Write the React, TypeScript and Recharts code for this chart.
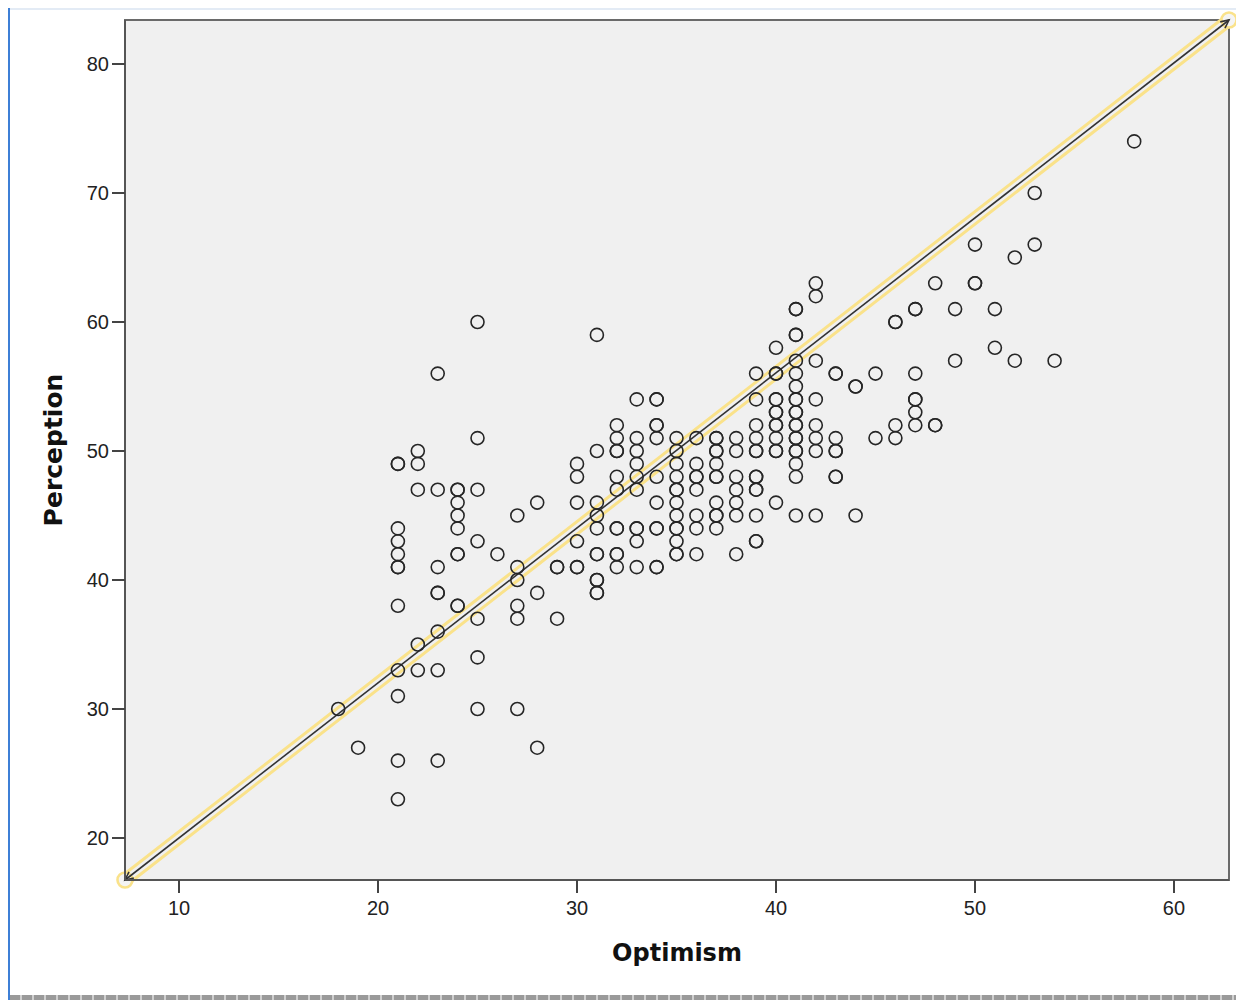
import React from 'react';
import {
  ScatterChart,
  Scatter,
  XAxis,
  YAxis,
  ReferenceArea,
  ReferenceLine,
  Label,
} from 'recharts';

// Optimism scores (x) and the Perception scores (y) seen at each of them.
// Repeated values are overlapping cases (they show as darker circles).
const optimismLevels = [
  18, 19, 21, 22, 23, 24, 25, 26, 27, 28, 29, 30, 31, 32, 33, 34, 35, 36, 37, 38,
  39, 40, 41, 42, 43, 44, 45, 46, 47, 48, 49, 50, 51, 52, 53, 54, 58,
];

const perceptionAtLevel = [
  [30],
  [27],
  [49, 49, 44, 43, 42, 41, 41, 38, 33, 31, 26, 23],
  [50, 49, 47, 35, 33],
  [56, 47, 41, 39, 39, 36, 33, 26],
  [47, 47, 46, 45, 44, 42, 42, 38, 38],
  [60, 51, 47, 43, 37, 34, 30],
  [42],
  [45, 41, 40, 38, 37, 30],
  [46, 39, 27],
  [41, 41, 37],
  [49, 48, 46, 43, 41, 41],
  [59, 50, 46, 45, 44, 42, 42, 40, 40, 39, 39],
  [52, 51, 50, 50, 48, 47, 44, 44, 42, 42, 41],
  [54, 51, 50, 49, 48, 47, 44, 44, 43, 41],
  [54, 54, 52, 52, 51, 48, 46, 44, 44, 41, 41],
  [51, 50, 49, 48, 47, 47, 46, 45, 44, 44, 43, 42, 42],
  [51, 49, 48, 48, 47, 45, 44, 42],
  [51, 51, 50, 50, 49, 48, 48, 46, 45, 45, 44],
  [51, 50, 48, 47, 46, 45, 42],
  [56, 54, 52, 51, 50, 50, 48, 48, 47, 47, 45, 43, 43],
  [58, 56, 56, 54, 54, 53, 53, 52, 52, 51, 50, 50, 46],
  [61, 61, 59, 59, 57, 56, 55, 54, 54, 53, 53, 52, 52, 51, 51, 50, 50, 49, 48, 45],
  [63, 62, 57, 54, 52, 51, 50, 45],
  [56, 56, 51, 50, 50, 48, 48],
  [55, 55, 45],
  [56, 51],
  [60, 60, 52, 51],
  [61, 61, 56, 54, 54, 53, 52],
  [63, 52, 52],
  [61, 57],
  [66, 63, 63],
  [61, 58],
  [65, 57],
  [70, 66],
  [57],
  [74],
];

const xTicks = [10, 20, 30, 40, 50, 60];
const yTicks = [20, 30, 40, 50, 60, 70, 80];
const xDomain = [7.286, 62.764];
const yDomain = [16.744, 83.41];

const points = optimismLevels.flatMap((x, i) =>
  perceptionAtLevel[i].map((y) => ({ optimism: x, perception: y }))
);

const tickStyle = { fill: '#222', fontSize: 20, fontFamily: '"Liberation Sans", Arial, sans-serif' };
const titleStyle = { fill: '#111', fontSize: 24, fontWeight: 700, fontFamily: '"DejaVu Sans", Verdana, sans-serif' };

const OpenCircle = (props: any) => {
  const { cx, cy } = props;
  if (cx == null || cy == null) return null;
  return <circle cx={cx} cy={cy} r={6.5} fill="none" stroke="#262626" strokeWidth={1.6} />;
};

// selected line: yellow halo, dark core, arrow tips and handles at both ends
const SelectedLine = (props: any) => {
  const { x1, y1, x2, y2 } = props;
  if ([x1, y1, x2, y2].some((v) => v == null)) return null;
  const ang = Math.atan2(y2 - y1, x2 - x1);
  const arrow = (x: number, y: number, dir: number) => {
    const a = ang + (dir < 0 ? Math.PI : 0);
    const len = 9;
    const w = 0.45;
    const p1 = [x - len * Math.cos(a - w), y - len * Math.sin(a - w)];
    const p2 = [x - len * Math.cos(a + w), y - len * Math.sin(a + w)];
    return `M${p1[0]},${p1[1]} L${x},${y} L${p2[0]},${p2[1]}`;
  };
  return (
    <g>
      <line x1={x1} y1={y1} x2={x2} y2={y2} stroke="#fae28a" strokeWidth={13} strokeLinecap="round" />
      <line x1={x1} y1={y1} x2={x2} y2={y2} stroke="#f0f0f0" strokeWidth={7} />
      <circle cx={x1} cy={y1} r={7.5} fill="#f4f4f4" stroke="#fae28a" strokeWidth={2.6} />
      <circle cx={x2} cy={y2} r={7.5} fill="#f4f4f4" stroke="#fae28a" strokeWidth={2.6} />
      <line x1={x1} y1={y1} x2={x2} y2={y2} stroke="#333" strokeWidth={1.6} />
      <path d={arrow(x2, y2, 1)} fill="none" stroke="#333" strokeWidth={1.6} />
      <path d={arrow(x1, y1, -1)} fill="none" stroke="#333" strokeWidth={1.6} />
    </g>
  );
};

export default function App() {
  return (
    <div style={{ position: 'relative', width: 1236, height: 992, background: '#fff' }}>
      {/* window frame bits */}
      <div style={{ position: 'absolute', left: 0, top: 0, width: 2, height: 992, background: '#3d7fd6' }} />
      <div style={{ position: 'absolute', left: 2, top: 0, width: 1234, height: 2, background: '#e3ebf5' }} />
      <div style={{ position: 'absolute', left: 1231, top: 0, width: 2, height: 988, background: '#a8a8a8' }} />
      <div
        style={{
          position: 'absolute',
          left: 2,
          top: 987,
          width: 1234,
          height: 5,
          background: 'repeating-linear-gradient(90deg, #9a9a9a 0 10px, #d0d0d0 10px 12px)',
        }}
      />
      <ScatterChart width={1236} height={992} margin={{ top: 12, right: 15, bottom: 0, left: 0 }}>
        <ReferenceArea
          x1={xDomain[0]}
          x2={xDomain[1]}
          y1={yDomain[0]}
          y2={yDomain[1]}
          fill="#f0f0f0"
          fillOpacity={1}
          stroke="#6a6a6a"
          strokeWidth={2}
        />
        <XAxis
          type="number"
          dataKey="optimism"
          domain={xDomain}
          ticks={xTicks}
          allowDataOverflow
          height={120}
          tickSize={13}
          tickMargin={8}
          tick={tickStyle}
          axisLine={{ stroke: '#555', strokeWidth: 2 }}
          tickLine={{ stroke: '#444', strokeWidth: 2 }}
        >
          <Label
            content={({ viewBox }: any) => (
              <text
                x={viewBox.x + viewBox.width / 2}
                y={viewBox.y + 73}
                textAnchor="middle"
                dominantBaseline="central"
                style={titleStyle}
              >
                Optimism
              </text>
            )}
          />
        </XAxis>
        <YAxis
          type="number"
          dataKey="perception"
          domain={yDomain}
          ticks={yTicks}
          allowDataOverflow
          width={117}
          tickSize={13}
          tickMargin={3}
          tick={tickStyle}
          axisLine={{ stroke: '#555', strokeWidth: 2 }}
          tickLine={{ stroke: '#444', strokeWidth: 2 }}
        >
          <Label
            content={({ viewBox }: any) => {
              const cx = viewBox.x + 45;
              const cy = viewBox.y + viewBox.height / 2;
              return (
                <text
                  x={cx}
                  y={cy}
                  transform={`rotate(-90, ${cx}, ${cy})`}
                  textAnchor="middle"
                  dominantBaseline="central"
                  style={{ ...titleStyle, fontSize: 25 }}
                >
                  Perception
                </text>
              );
            }}
          />
        </YAxis>
        <Scatter data={points} shape={OpenCircle} isAnimationActive={false} />
        <ReferenceLine
          segment={[
            { x: xDomain[0], y: yDomain[0] },
            { x: xDomain[1], y: yDomain[1] },
          ]}
          shape={SelectedLine}
          ifOverflow="visible"
        />
      </ScatterChart>
    </div>
  );
}
